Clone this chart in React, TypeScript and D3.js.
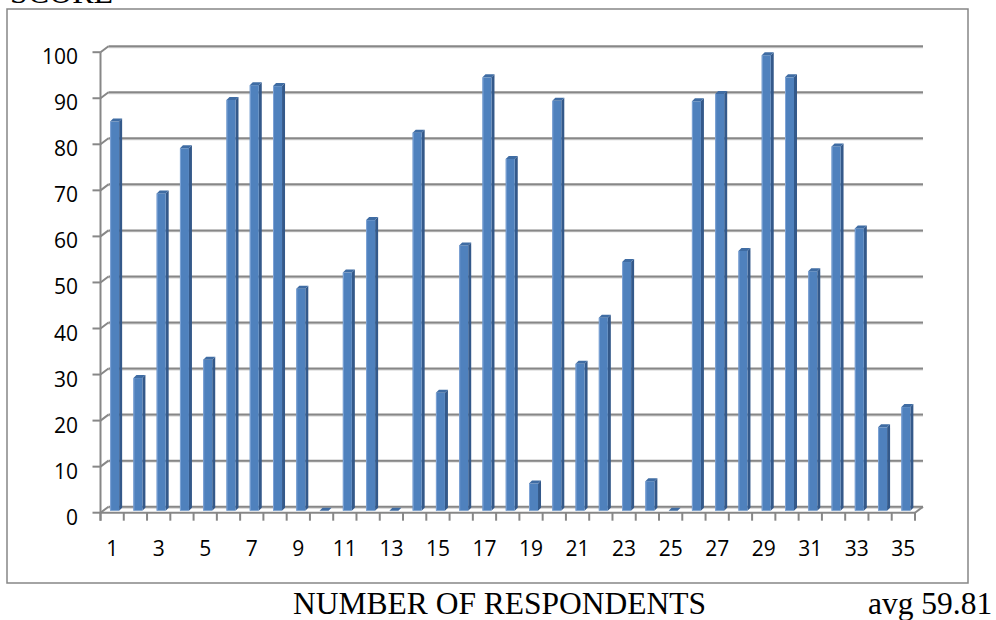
import React from "react";
import * as d3 from "d3";

const categories = ["1","2","3","4","5","6","7","8","9","10","11","12","13","14","15","16","17","18","19","20","21","22","23","24","25","26","27","28","29","30","31","32","33","34","35"];
const values = [84.5, 28.8, 68.9, 78.7, 32.8, 89.2, 92.4, 92.2, 48.2, 0, 51.7, 63.1, 0, 82.1, 25.6, 57.6, 94.1, 76.4, 5.9, 89.0, 31.9, 41.9, 54.0, 6.4, 0, 88.9, 90.5, 56.4, 98.9, 94.1, 52.0, 79.1, 61.3, 18.1, 22.5];
const yTicks = [0, 10, 20, 30, 40, 50, 60, 70, 80, 90, 100];
const xLabels = ["1","3","5","7","9","11","13","15","17","19","21","23","25","27","29","31","33","35"];
const yTitle = "SCORE";
const xTitle = "NUMBER OF RESPONDENTS";
const avgText = "avg 59.81";

const W = 996, H = 620;
const DX = 8, DY = 6;
const GRID = "#878787";

export default function App() {
  const x = d3.scaleBand<string>().domain(categories).range([100.5, 915]).padding(0);
  const yBack = d3.scaleLinear().domain([0, 100]).range([506.7, 46.2]);
  const yFront = (v: number) => yBack(v) + DY;
  const yBar = (v: number) => yBack(v) + 4;
  const x0 = x.range()[0];
  const x1 = x.range()[1];
  const font = "'Open Sans', 'Liberation Sans', sans-serif";
  const serif = "'Liberation Serif', 'Times New Roman', serif";
  const bw = x.bandwidth();

  return (
    <svg width={W} height={H} style={{ position: "absolute", left: 0, top: 0, background: "#fff" }}>
      <text x={10} y={3} fontFamily={serif} fontSize={32} fill="#000">{yTitle}</text>
      <rect x={7} y={9} width={961} height={574} fill="#fff" stroke="#868686" strokeWidth={1.5} />
      {yTicks.map((t) => (
        <g key={"g" + t}>
          <line x1={x0 + DX} x2={x1 + DX} y1={yBack(t) + 1.2} y2={yBack(t) + 1.2} stroke="#d0d0d0" strokeWidth={1.5} />
          <line x1={x0 + DX} x2={x1 + DX} y1={yBack(t)} y2={yBack(t)} stroke={GRID} strokeWidth={2} />
          <line x1={x0} y1={yFront(t)} x2={x0 + DX} y2={yBack(t)} stroke={GRID} strokeWidth={2} />
          <line x1={x0 - 8} x2={x0} y1={yFront(t)} y2={yFront(t)} stroke={GRID} strokeWidth={2} />
          <text x={78} y={yFront(t) + 12} textAnchor="end" fontFamily={font} fontSize={21} fill="#000">{t}</text>
        </g>
      ))}
      <line x1={x0} x2={x0} y1={yFront(100)} y2={yFront(0) + 8} stroke={GRID} strokeWidth={2} />
      <line x1={x0} x2={x1} y1={yFront(0)} y2={yFront(0)} stroke={GRID} strokeWidth={2} />
      <line x1={x1} y1={yFront(0)} x2={x1 + DX} y2={yBack(0)} stroke={GRID} strokeWidth={2} />
      {categories.concat(["end"]).map((c, i) => {
        const xx = x0 + i * bw;
        return <line key={"t" + i} x1={xx} x2={xx} y1={yFront(0)} y2={yFront(0) + 8} stroke={GRID} strokeWidth={2} />;
      })}
      {categories.map((c, i) => {
        const cx = (x(c) as number) + bw / 2;
        const fl = cx - 2, fr = cx + 7, sw = 3, sh = 3;
        const yt = yBar(values[i]);
        const yb = yBar(0);
        return (
          <g key={"b" + c}>
            <polygon points={`${fr},${yt} ${fr + sw},${yt - sh} ${fr + sw},${yb - sh} ${fr},${yb}`} fill="#34598a" />
            <rect x={fl} y={yt} width={fr - fl} height={Math.max(0, yb - yt)} fill="#4f81bd" />
            <line x1={fl + 0.5} x2={fl + 0.5} y1={yt} y2={yb} stroke="#7fa4d6" strokeWidth={1} />
            <polygon points={`${fl},${yt} ${fr},${yt} ${fr + sw},${yt - sh} ${fl + sw},${yt - sh}`} fill="#3f6ca3" />
          </g>
        );
      })}
      {xLabels.map((l) => (
        <text key={"x" + l} x={(x(l) as number) + bw / 2} y={556} textAnchor="middle" fontFamily={font} fontSize={21} fill="#000">{l}</text>
      ))}
      <text x={293} y={614} fontFamily={serif} fontSize={31.5} fill="#000">{xTitle}</text>
      <text x={868} y={614} fontFamily={serif} fontSize={31.5} fill="#000">{avgText}</text>
    </svg>
  );
}
